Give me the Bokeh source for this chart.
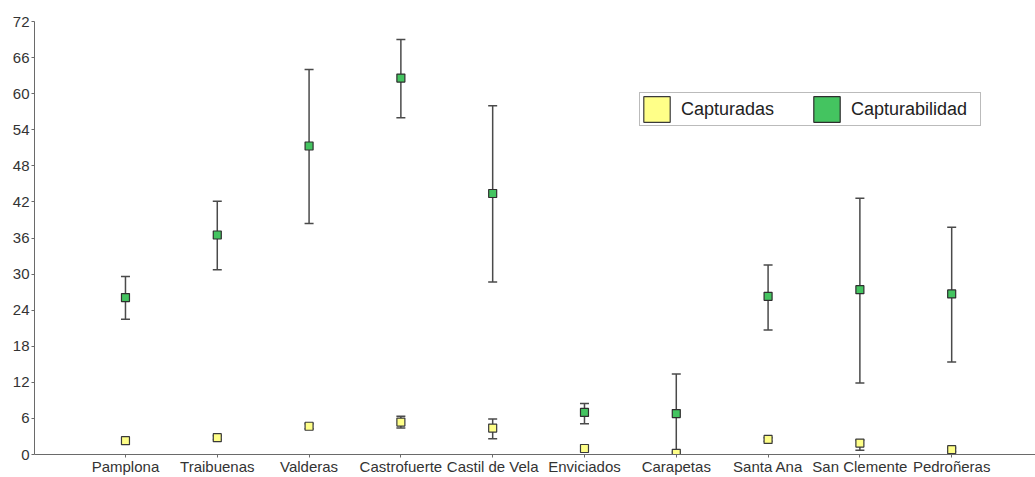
from bokeh.plotting import figure
from bokeh.models import ColumnDataSource, Whisker, Range1d, FixedTicker, Legend, LegendItem, TeeHead
from bokeh.embed import file_html
from bokeh.resources import INLINE

sites = ["Pamplona", "Traibuenas", "Valderas", "Castrofuerte", "Castil de Vela",
         "Enviciados", "Carapetas", "Santa Ana", "San Clemente", "Pedroñeras"]

capturabilidad = [26.1, 36.5, 51.3, 62.6, 43.4, 7.0, 6.8, 26.3, 27.4, 26.7]
capturabilidad_low = [22.5, 30.7, 38.4, 56.0, 28.7, 5.1, 0.0, 20.7, 11.9, 15.4]
capturabilidad_high = [29.6, 42.1, 64.0, 69.0, 58.0, 8.5, 13.4, 31.5, 42.6, 37.8]

capturadas = [2.3, 2.8, 4.7, 5.4, 4.4, 1.0, 0.2, 2.5, 1.9, 0.8]
capturadas_low = [2.0, 2.5, 4.3, 4.4, 2.6, 0.7, 0.0, 2.2, 0.7, 0.5]
capturadas_high = [2.6, 3.1, 5.1, 6.35, 5.9, 1.3, 0.4, 2.8, 2.4, 1.1]

y_ticks = [0, 6, 12, 18, 24, 30, 36, 42, 48, 54, 60, 66, 72]

xs = list(range(1, len(sites) + 1))

FONT = "Liberation Sans"
AXIS_COLOR = "#6a6a6a"
BAR_COLOR = "#4a4a4a"

p = figure(width=1035, height=477, output_backend="svg", toolbar_location=None,
           x_range=Range1d(0.009, 10.913), y_range=Range1d(0, 72),
           min_border_left=34, min_border_top=21, min_border_bottom=22, min_border_right=0)
p.outline_line_color = None
p.xgrid.visible = False
p.ygrid.visible = False

src_y = ColumnDataSource(dict(x=xs, y=capturadas, lo=capturadas_low, hi=capturadas_high))
src_g = ColumnDataSource(dict(x=xs, y=capturabilidad, lo=capturabilidad_low, hi=capturabilidad_high))

for src in (src_y, src_g):
    w = Whisker(source=src, base="x", lower="lo", upper="hi", dimension="height",
                line_color=BAR_COLOR, line_width=1.5,
                upper_head=TeeHead(size=9, line_color=BAR_COLOR, line_width=1.5),
                lower_head=TeeHead(size=9, line_color=BAR_COLOR, line_width=1.5))
    p.add_layout(w)

r_y = p.rect("x", "y", width=8, height=8, width_units="screen", height_units="screen",
             source=src_y, fill_color="#ffff88", line_color="#3a3a3a", line_width=1.2)
r_g = p.rect("x", "y", width=8, height=8, width_units="screen", height_units="screen",
             source=src_g, fill_color="#44c460", line_color="#2e2e2e", line_width=1.2)

legend = Legend(items=[LegendItem(label="Capturadas", renderers=[r_y]),
                       LegendItem(label="Capturabilidad", renderers=[r_g])],
                orientation="horizontal", location=(605, 328),
                glyph_width=33, glyph_height=32, padding=0, spacing=0, margin=0,
                label_standoff=8, label_width=129, label_height=32,
                label_text_font=FONT, label_text_font_size="18px", label_text_color="#222222",
                border_line_color="#777777", border_line_width=1,
                background_fill_color="white", background_fill_alpha=1)
p.add_layout(legend, "center")

p.xaxis.ticker = FixedTicker(ticks=xs)
p.xaxis.major_label_overrides = {x: s for x, s in zip(xs, sites)}
p.yaxis.ticker = FixedTicker(ticks=y_ticks)
p.xaxis.minor_tick_line_color = None
p.yaxis.minor_tick_line_color = None

for ax in (p.xaxis[0], p.yaxis[0]):
    ax.axis_line_color = AXIS_COLOR
    ax.major_tick_line_color = AXIS_COLOR
    ax.major_tick_in = 0
    ax.major_tick_out = 3
    ax.major_label_text_font = FONT
    ax.major_label_text_font_size = "15px"
    ax.major_label_text_color = "#333333"
p.xaxis.major_label_standoff = 0
p.yaxis.major_label_standoff = 2

open("out.html", "w").write(file_html(p, INLINE))
